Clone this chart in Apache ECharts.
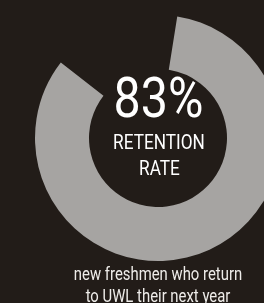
<!DOCTYPE html>
<html>
<head>
<meta charset="utf-8">
<script src="https://cdn.jsdelivr.net/npm/echarts@6/dist/echarts.min.js"></script>
<style>
  html, body { margin: 0; padding: 0; background: #221c18; }
  #chart { width: 264px; height: 303px; }
</style>
</head>
<body>
<div id="chart"></div>
<script>
// Retention donut data
const sliceNames = ['Return', 'Do not return'];
const sliceValues = [83, 17];
const sliceColors = ['#a6a4a2', 'transparent'];

const bigLabel = '83%';
const subLabel = ['RETENTION', 'RATE'];
const caption = ['new freshmen who return', 'to UWL their next year'];

const FONT = 'Roboto, "Liberation Sans", sans-serif';

// condensed-looking text: normal font squeezed horizontally
function squeezedText(text, x, y, size, sx, color, weight) {
    return {
        type: 'text',
        x: x, y: y,
        scaleX: sx,
        silent: true,
        style: {
            text: text,
            x: 0, y: 0,
            fill: color,
            font: (weight || 'normal') + ' ' + size + 'px ' + FONT,
            textAlign: 'center',
            textVerticalAlign: 'middle'
        }
    };
}

const chart = echarts.init(document.getElementById('chart'));

const option = {
    backgroundColor: '#221c18',
    animation: false,
    graphic: [
        squeezedText(bigLabel, 158.5, 103, 55, 0.88, '#ffffff'),
        squeezedText(subLabel[0], 159, 144, 21, 0.82, '#ffffff'),
        squeezedText(subLabel[1], 159.5, 170, 21, 0.82, '#ffffff'),
        squeezedText(caption[0], 158, 275.5, 17.5, 0.85, '#eeece9'),
        squeezedText(caption[1], 158, 298, 17.5, 0.85, '#eeece9')
    ],
    series: [
        {
            type: 'pie',
            center: [158, 138],
            radius: [69, 123],
            startAngle: 81,
            clockwise: true,
            silent: true,
            label: { show: false },
            labelLine: { show: false },
            data: sliceValues.map((v, i) => ({
                name: sliceNames[i],
                value: v,
                itemStyle: { color: sliceColors[i] }
            }))
        }
    ]
};

chart.setOption(option);
</script>
</body>
</html>
